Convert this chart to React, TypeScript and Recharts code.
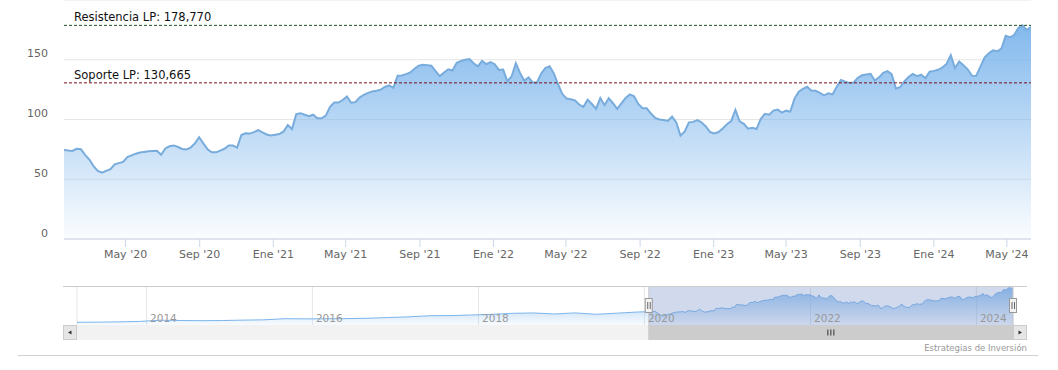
import React from "react";
import {
  AreaChart,
  Area,
  XAxis,
  YAxis,
  CartesianGrid,
  ReferenceLine,
  ReferenceArea,
} from "recharts";

const DAY = 86400000;
const FONT = "'DejaVu Sans', Verdana, sans-serif";

// weekly closes, first week starting on startDate
const startDate = "2020-01-20";
const weeklyClose = [
  74.5, 74, 73.7, 75.5, 75.2, 70.4, 66.5, 61, 57, 55.5,
  57, 58.5, 62.5, 63.5, 64.5, 68.5, 70, 71.4, 72.3, 72.9,
  73.4, 73.7, 73.9, 70.5, 75.8, 77.6, 78.3, 77, 75.3, 75,
  76.5, 80, 85.2, 80, 75, 72.5, 72.5, 74, 75.5, 78.3,
  78.2, 76.5, 87, 88.5, 88.2, 89.4, 91.2, 89.3, 87.5, 86.6,
  87.3, 87.8, 90, 95.3, 92, 104.5, 105.3, 104, 102.8, 104,
  101, 101, 103.3, 110.7, 114.2, 114.2, 116.3, 119.2, 114, 114.5,
  118.3, 120.7, 122.3, 123.5, 124, 125, 127.2, 128.5, 126.5, 136.7,
  136.9, 138, 139.4, 142.5, 145, 145.8, 145.5, 145, 140.5, 136.3,
  139.3, 142, 141, 147.5, 149, 150, 150.5, 147, 144.5, 149,
  146.4, 148, 146.3, 141.5, 141.8, 132, 136, 147, 139, 132.5,
  135.3, 131, 131, 138.5, 143, 144.5, 138.5, 129.5, 121.5, 117.5,
  117, 116, 112.5, 110.5, 116.6, 113, 109, 117.9, 112, 117.8,
  113.6, 109, 113.5, 118, 121, 119.5, 113, 109.5, 109.4, 105,
  101.3, 100, 99.6, 98.8, 102.5, 97.5, 86.5, 90, 97.6, 98,
  99.5, 97.5, 94.2, 89.5, 88.4, 89.5, 92.5, 96, 98.7, 108,
  98.5, 96.4, 92.3, 93, 92, 100.5, 104.8, 104, 107.5, 108.3,
  105.8, 107.4, 106.6, 117.5, 123.3, 125.7, 127.4, 124, 124, 122.3,
  120.2, 122, 121, 127.4, 133, 131.6, 130.5, 131, 135, 137,
  137.7, 138.3, 132.6, 135.3, 139, 140.5, 138, 126, 127, 131.8,
  135.6, 138.2, 136.3, 137.5, 134.6, 140, 140.7, 141.6, 143.5, 146.5,
  153.8, 143, 148.5, 145.3, 142, 136.7, 136.5, 144, 151.8, 155.5,
  157.8, 157.1, 159.4, 170, 168.8, 170.7, 176.5, 178.77, 174.8, 177.5,
];

// older history, only shown in the navigator
const historyDates = [
  "2013-03-01", "2013-06-01", "2013-09-01", "2013-12-01",
  "2014-03-01", "2014-06-01", "2014-09-01", "2014-12-01",
  "2015-03-01", "2015-06-01", "2015-09-01", "2015-12-01",
  "2016-03-01", "2016-06-01", "2016-09-01", "2016-12-01",
  "2017-03-01", "2017-06-01", "2017-09-01", "2017-12-01",
  "2018-03-01", "2018-06-01", "2018-09-01", "2018-12-01",
  "2019-03-01", "2019-06-01", "2019-09-01", "2019-12-01",
];
const historyClose = [
  27.7, 28.4, 29.6, 31.5, 36.8, 35.6, 34.8, 35.5,
  37.2, 38.5, 43.4, 42.8, 43.2, 43.8, 45.5, 48.6,
  51.5, 56.5, 57.2, 59.6, 62.5, 67, 68.5, 64,
  68.8, 62.6, 67.5, 72.5,
];

const resistance = 178.77;
const support = 130.665;

const monthTicks = [
  "2020-05-01", "2020-09-01", "2021-01-01", "2021-05-01", "2021-09-01",
  "2022-01-01", "2022-05-01", "2022-09-01", "2023-01-01", "2023-05-01",
  "2023-09-01", "2024-01-01", "2024-05-01",
];
const yearTicks = [
  "2014-01-01", "2016-01-01", "2018-01-01", "2020-01-01", "2022-01-01", "2024-01-01",
];
const valueTicks = [0, 50, 100, 150];
const monthNames = ["Ene", "Feb", "Mar", "Abr", "May", "Jun", "Jul", "Ago", "Sep", "Oct", "Nov", "Dic"];

const ts = (s: string) => Date.parse(s + "T00:00:00Z");
const t0 = ts(startDate);
const mainData = weeklyClose.map((v, i) => ({ t: t0 + i * 7 * DAY, v }));
const tEnd = mainData[mainData.length - 1].t;
const navData = [
  ...historyDates.map((d, i) => ({ t: ts(d), v: historyClose[i] })),
  ...mainData,
];
const navStart = navData[0].t;

const fmtMonth = (t: number) => {
  const d = new Date(t);
  return `${monthNames[d.getUTCMonth()]} '${String(d.getUTCFullYear()).slice(2)}`;
};
const fmtLevel = (v: number) => v.toFixed(3).replace(".", ",");

const MonthTick = (p: any) => (
  <text x={p.x} y={257.5} textAnchor="middle" fontSize={11} fill="#666" fontFamily={FONT}>
    {fmtMonth(p.payload.value)}
  </text>
);

const ValueTick = (p: any) => (
  <text x={48} y={p.y - 2.5} textAnchor="end" fontSize={11} fill="#666" fontFamily={FONT}>
    {p.payload.value}
  </text>
);

const YearTick = (p: any) => (
  <text x={p.x + 3.5} y={35.7} fontSize={10.5} fill="#999" fontFamily={FONT}>
    {new Date(p.payload.value).getUTCFullYear()}
  </text>
);

const levelLabel = (text: string) => (p: any) => {
  const vb = p.viewBox || {};
  return (
    <text x={vb.x + 10} y={vb.y - 4} fontSize={11.5} fill="#111" fontFamily={FONT}>
      {text}
    </text>
  );
};

// selected window in the navigator, plus its scrollbar thumb and handles
const NavWindow = (p: any) => {
  const { x, y, width, height } = p;
  const r = x + width;
  const bottom = y + height;
  const sb = bottom + 15;
  const cx = x + width / 2;
  const handle = (hx: number) => (
    <g>
      <rect x={hx - 3.5} y={12.5} width={7} height={14} fill="#f2f2f2" stroke="#999" />
      <path d={`M${hx - 1} 16V23M${hx + 1.5} 16V23`} stroke="#666" />
    </g>
  );
  return (
    <g>
      <rect x={x} y={y} width={width} height={height} fill="rgba(102,133,194,0.3)" />
      <rect x={x} y={bottom} width={width} height={15} fill="#cccccc" />
      <path
        d={`M${cx - 3} ${bottom + 4.5}V${sb - 4.5}M${cx} ${bottom + 4.5}V${sb - 4.5}M${cx + 3} ${bottom + 4.5}V${sb - 4.5}`}
        stroke="#333"
      />
      <path
        d={`M63 ${y + 0.5}H1027M${x} ${y}V${sb - 0.5}H${r}V${y}`}
        stroke="#cccccc"
        fill="none"
      />
      {handle(x)}
      {handle(r)}
    </g>
  );
};

const App: React.FC = () => {
  return (
    <div
      style={{
        position: "absolute",
        left: 0,
        top: 0,
        width: 1058,
        height: 370,
        background: "#fff",
        fontFamily: FONT,
      }}
    >
      <div style={{ position: "absolute", left: 0, top: 0 }}>
        <AreaChart width={1058} height={269} data={mainData} margin={{ top: 0, right: 27, bottom: 0, left: 0 }}>
          <defs>
            <linearGradient id="mainFill" x1="0" y1="0" x2="0" y2="1">
              <stop offset="0%" stopColor="#7cb5ec" stopOpacity={0.95} />
              <stop offset="100%" stopColor="#7cb5ec" stopOpacity={0.03} />
            </linearGradient>
          </defs>
          <CartesianGrid vertical={false} stroke="#e6e6e6" />
          <XAxis
            dataKey="t"
            type="number"
            domain={[t0, tEnd]}
            allowDataOverflow
            ticks={monthTicks.map(ts)}
            interval={0}
            height={30}
            axisLine={{ stroke: "#ccd6eb" }}
            tickLine={{ stroke: "#ccd6eb" }}
            tickSize={8}
            tick={MonthTick}
          />
          <YAxis
            type="number"
            domain={[0, 200]}
            allowDataOverflow
            ticks={valueTicks}
            interval={0}
            width={64}
            axisLine={false}
            tickLine={false}
            tick={ValueTick}
          />
          <Area
            type="linear"
            dataKey="v"
            stroke="#78acdc"
            strokeWidth={2}
            fill="url(#mainFill)"
            fillOpacity={1}
            dot={false}
            activeDot={false}
            isAnimationActive={false}
          />
          <ReferenceLine
            y={resistance}
            stroke="#1d4f24"
            strokeDasharray="3 2"
            label={levelLabel(`Resistencia LP: ${fmtLevel(resistance)}`)}
          />
          <ReferenceLine
            y={support}
            stroke="#7a0f1a"
            strokeDasharray="3 2"
            label={levelLabel(`Soporte LP: ${fmtLevel(support)}`)}
          />
        </AreaChart>
      </div>

      <svg
        width={1058}
        height={370}
        style={{ position: "absolute", left: 0, top: 0 }}
      >
        <rect x={63} y={325} width={964} height={15} fill="#f2f2f2" />
        <rect x={63.5} y={325.5} width={13} height={14} fill="#e6e6e6" stroke="#cccccc" />
        <path d="M71.5 330.5L68 332.5L71.5 334.5Z" fill="#333" />
        <rect x={1013.5} y={325.5} width={13} height={14} fill="#e6e6e6" stroke="#cccccc" />
        <path d="M1018.5 330.5L1022 332.5L1018.5 334.5Z" fill="#333" />
        <text x={1027} y={350.5} textAnchor="end" fontSize={8.5} fill="#999" fontFamily={FONT}>
          Estrategias de Inversión
        </text>
        <rect x={18} y={355} width={1020} height={1} fill="#d0d0d0" />
      </svg>

      <div style={{ position: "absolute", left: 0, top: 286 }}>
        <AreaChart width={1058} height={54} data={navData} margin={{ top: 0, right: 45, bottom: 0, left: 77 }}>
          <defs>
            <linearGradient id="navFill" x1="0" y1="0" x2="0" y2="1">
              <stop offset="0%" stopColor="#7cb5ec" stopOpacity={0.8} />
              <stop offset="100%" stopColor="#7cb5ec" stopOpacity={0.05} />
            </linearGradient>
          </defs>
          <CartesianGrid horizontal={false} stroke="#e6e6e6" />
          <XAxis
            dataKey="t"
            type="number"
            domain={[navStart, tEnd]}
            allowDataOverflow
            ticks={yearTicks.map(ts)}
            interval={0}
            height={15}
            axisLine={false}
            tickLine={false}
            tick={YearTick}
          />
          <YAxis hide type="number" domain={[16, 186]} allowDataOverflow />
          <Area
            type="linear"
            dataKey="v"
            stroke="#7cb5ec"
            strokeWidth={1}
            fill="url(#navFill)"
            fillOpacity={1}
            dot={false}
            activeDot={false}
            isAnimationActive={false}
          />
          <ReferenceArea x1={t0} x2={tEnd} ifOverflow="visible" shape={NavWindow} />
        </AreaChart>
      </div>
    </div>
  );
};

export default App;
